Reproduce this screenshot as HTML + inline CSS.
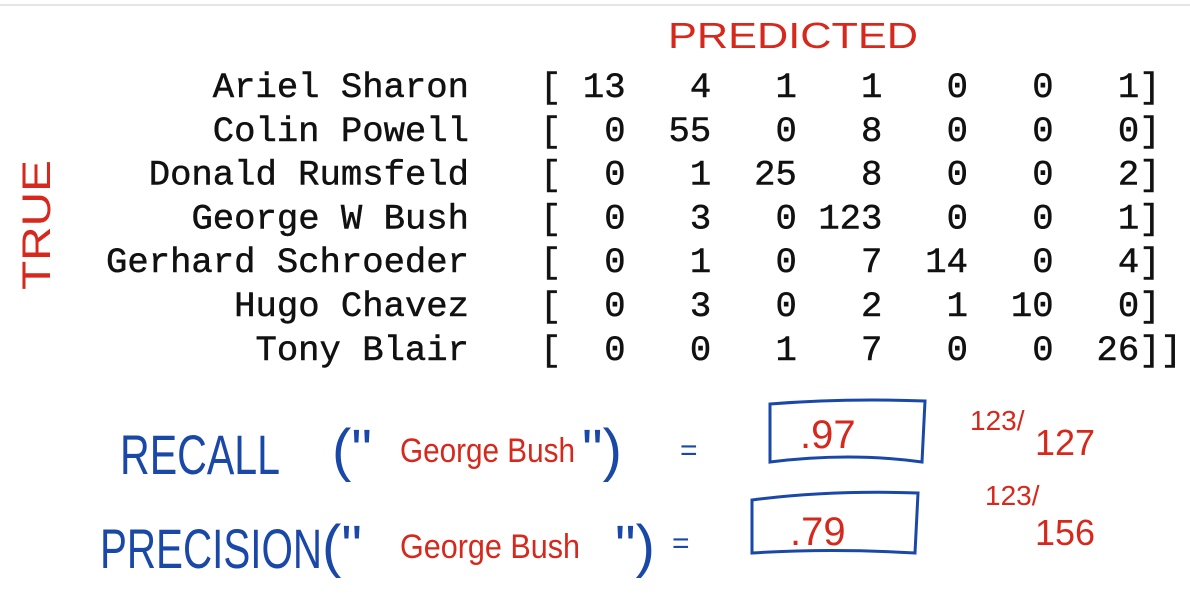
<!DOCTYPE html>
<html><head><meta charset="utf-8"><style>
html,body{margin:0;padding:0;background:#fff;}
svg{display:block;}
.mono{font-family:"Liberation Mono",monospace;font-size:35.6px;fill:#111;stroke:#111;stroke-width:0.5;}
.hw{font-family:"Liberation Sans Narrow","Liberation Sans",sans-serif;}
</style></head><body>
<svg id="c" width="1190" height="604" viewBox="0 0 1190 604">
<rect x="0" y="0" width="1190" height="604" fill="#fff"/>
<line x1="0" y1="5" x2="1190" y2="5" stroke="#e6e6e6" stroke-width="2"/>
<text x="668" y="48" class="hw" font-size="36" fill="#d6281c" textLength="250" lengthAdjust="spacingAndGlyphs">PREDICTED</text>
<text transform="translate(50,290) rotate(-90)" class="hw" font-size="40" fill="#d6281c" textLength="130" lengthAdjust="spacingAndGlyphs">TRUE</text>
<g id="names"></g>
<g id="matrix"></g>
<g fill="none" stroke="#1a48a8" stroke-width="3">
<path d="M770 404 Q845 398 925 401 L922 462 Q850 452 770 462 Z"/>
</g>
<g fill="none" stroke="#1a48a8" stroke-width="3">
<path d="M752 500 Q830 490 918 493 L915 553 Q830 548 752 553 Z"/>
</g>
<text x="120" y="474" class="hw" font-size="56" fill="#1a48a8" textLength="160" lengthAdjust="spacingAndGlyphs">RECALL</text>
<text x="332" y="470" class="hw" font-size="58" fill="#1a48a8">("</text>
<text x="400" y="462" class="hw" font-size="34" fill="#d6281c" textLength="175" lengthAdjust="spacingAndGlyphs">George Bush</text>
<text x="582" y="470" class="hw" font-size="58" fill="#1a48a8">")</text>
<text x="680" y="460" class="hw" font-size="30" fill="#1a48a8">=</text>
<text x="800" y="448" class="hw" font-size="40" fill="#d6281c">.97</text>
<text x="970" y="430" class="hw" font-size="28" fill="#d6281c">123/</text>
<text x="1035" y="455" class="hw" font-size="36" fill="#d6281c">127</text>
<text x="100" y="568" class="hw" font-size="56" fill="#1a48a8" textLength="222" lengthAdjust="spacingAndGlyphs">PRECISION</text>
<text x="322" y="566" class="hw" font-size="58" fill="#1a48a8">("</text>
<text x="400" y="558" class="hw" font-size="34" fill="#d6281c" textLength="180" lengthAdjust="spacingAndGlyphs">George Bush</text>
<text x="615" y="566" class="hw" font-size="58" fill="#1a48a8">")</text>
<text x="672" y="553" class="hw" font-size="30" fill="#1a48a8">=</text>
<text x="790" y="545" class="hw" font-size="40" fill="#d6281c">.79</text>
<text x="985" y="505" class="hw" font-size="28" fill="#d6281c">123/</text>
<text x="1035" y="545" class="hw" font-size="36" fill="#d6281c">156</text>
</svg>
<script>
const classNames = ["Ariel Sharon","Colin Powell","Donald Rumsfeld","George W Bush","Gerhard Schroeder","Hugo Chavez","Tony Blair"];
const row0 = [13,4,1,1,0,0,1];
const row1 = [0,55,0,8,0,0,0];
const row2 = [0,1,25,8,0,0,2];
const row3 = [0,3,0,123,0,0,1];
const row4 = [0,1,0,7,14,0,4];
const row5 = [0,3,0,2,1,10,0];
const row6 = [0,0,1,7,0,0,26];
const rows = [row0,row1,row2,row3,row4,row5,row6];
const NS = "http://www.w3.org/2000/svg";
const names = document.getElementById('names');
const matrix = document.getElementById('matrix');
const cw = 21.4, y0 = 97, dy = 43.8, mx = 540;
classNames.forEach((n,i)=>{
  const t = document.createElementNS(NS,'text');
  t.setAttribute('x',469); t.setAttribute('y',y0+i*dy);
  t.setAttribute('text-anchor','end'); t.setAttribute('class','mono');
  t.textContent = n;
  
  
  names.appendChild(t);
  const b = document.createElementNS(NS,'text');
  b.setAttribute('x',mx); b.setAttribute('y',y0+i*dy); b.setAttribute('class','mono');
  b.textContent='[';
  
  
  matrix.appendChild(b);
  rows[i].forEach((v,j)=>{
    const c = document.createElementNS(NS,'text');
    c.setAttribute('x',mx+cw*(4+4*j)); c.setAttribute('y',y0+i*dy);
    c.setAttribute('text-anchor','end'); c.setAttribute('class','mono');
    c.textContent = String(v);
    
    
    matrix.appendChild(c);
  });
  const e = document.createElementNS(NS,'text');
  e.setAttribute('x',mx+cw*28); e.setAttribute('y',y0+i*dy); e.setAttribute('class','mono');
  e.textContent = i===rows.length-1 ? ']]' : ']';
  
  
  matrix.appendChild(e);
});
</script>
</body></html>
